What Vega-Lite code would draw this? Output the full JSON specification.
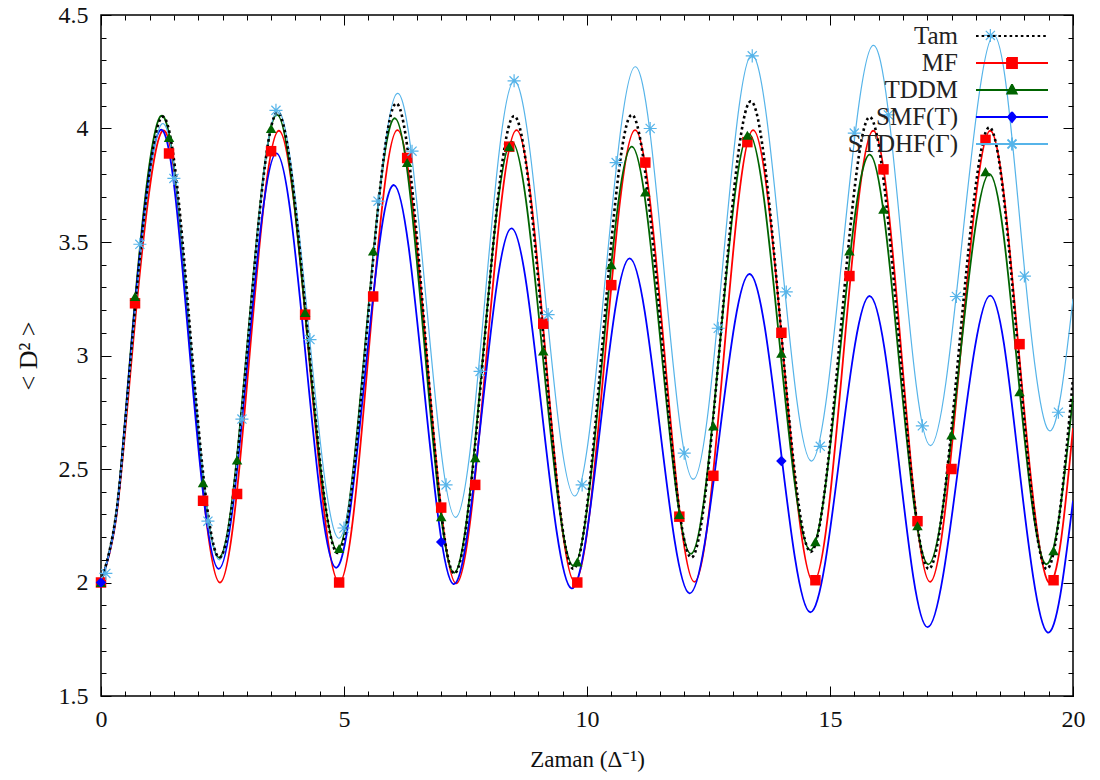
{
  "$schema": "https://vega.github.io/schema/vega-lite/v6.json",
  "width": 972,
  "height": 681,
  "autosize": {"type": "none"},
  "padding": {"left": 101, "top": 15, "right": 27, "bottom": 84},
  "background": "white",
  "config": {"view": {"stroke": "black", "strokeWidth": 1.5}, "font": "Liberation Serif"},
  "datasets": {
    "lines": [
      {"series":"Tam","x":0,"y":2.0},{"series":"Tam","x":0.31,"y":2.30},{"series":"Tam","x":0.625,"y":3.025},{"series":"Tam","x":1.25,"y":4.05},{"series":"Tam","x":1.845,"y":3.08},{"series":"Tam","x":2.44,"y":2.11},{"series":"Tam","x":3.035,"y":3.09},{"series":"Tam","x":3.63,"y":4.07},{"series":"Tam","x":4.25,"y":3.10},{"series":"Tam","x":4.87,"y":2.13},{"series":"Tam","x":5.475,"y":3.12},{"series":"Tam","x":6.08,"y":4.11},{"series":"Tam","x":6.675,"y":3.075},{"series":"Tam","x":7.27,"y":2.04},{"series":"Tam","x":7.885,"y":3.05},{"series":"Tam","x":8.5,"y":4.055},{"series":"Tam","x":9.11,"y":3.06},{"series":"Tam","x":9.72,"y":2.06},{"series":"Tam","x":10.32,"y":3.06},{"series":"Tam","x":10.92,"y":4.06},{"series":"Tam","x":11.535,"y":3.085},{"series":"Tam","x":12.15,"y":2.11},{"series":"Tam","x":12.76,"y":3.115},{"series":"Tam","x":13.37,"y":4.12},{"series":"Tam","x":13.985,"y":3.13},{"series":"Tam","x":14.6,"y":2.135},{"series":"Tam","x":15.21,"y":3.09},{"series":"Tam","x":15.82,"y":4.05},{"series":"Tam","x":16.425,"y":3.055},{"series":"Tam","x":17.03,"y":2.06},{"series":"Tam","x":17.655,"y":3.03},{"series":"Tam","x":18.28,"y":4.005},{"series":"Tam","x":18.865,"y":3.03},{"series":"Tam","x":19.45,"y":2.06},{"series":"Tam","x":20,"y":2.9},
      {"series":"MF","x":0,"y":2.0},{"series":"MF","x":0.31,"y":2.28},{"series":"MF","x":0.635,"y":2.995},{"series":"MF","x":1.27,"y":3.99},{"series":"MF","x":1.86,"y":2.995},{"series":"MF","x":2.45,"y":2.0},{"series":"MF","x":3.055,"y":2.995},{"series":"MF","x":3.66,"y":3.99},{"series":"MF","x":4.28,"y":2.995},{"series":"MF","x":4.9,"y":2.0},{"series":"MF","x":5.5,"y":2.997},{"series":"MF","x":6.1,"y":3.993},{"series":"MF","x":6.705,"y":2.995},{"series":"MF","x":7.31,"y":1.996},{"series":"MF","x":7.93,"y":2.995},{"series":"MF","x":8.55,"y":3.993},{"series":"MF","x":9.15,"y":2.998},{"series":"MF","x":9.75,"y":2.003},{"series":"MF","x":10.37,"y":2.998},{"series":"MF","x":10.99,"y":3.993},{"series":"MF","x":11.6,"y":2.998},{"series":"MF","x":12.21,"y":2.003},{"series":"MF","x":12.815,"y":2.998},{"series":"MF","x":13.42,"y":3.993},{"series":"MF","x":14.04,"y":2.998},{"series":"MF","x":14.66,"y":2.003},{"series":"MF","x":15.275,"y":2.998},{"series":"MF","x":15.89,"y":3.99},{"series":"MF","x":16.475,"y":2.997},{"series":"MF","x":17.06,"y":2.003},{"series":"MF","x":17.68,"y":2.997},{"series":"MF","x":18.3,"y":3.99},{"series":"MF","x":18.895,"y":2.997},{"series":"MF","x":19.49,"y":2.003},{"series":"MF","x":20,"y":2.68},
      {"series":"TDDM","x":0,"y":2.0},{"series":"TDDM","x":0.31,"y":2.30},{"series":"TDDM","x":0.615,"y":3.03},{"series":"TDDM","x":1.23,"y":4.055},{"series":"TDDM","x":1.83,"y":3.08},{"series":"TDDM","x":2.43,"y":2.11},{"series":"TDDM","x":3.025,"y":3.085},{"series":"TDDM","x":3.62,"y":4.06},{"series":"TDDM","x":4.24,"y":3.10},{"series":"TDDM","x":4.86,"y":2.143},{"series":"TDDM","x":5.455,"y":3.094},{"series":"TDDM","x":6.05,"y":4.045},{"series":"TDDM","x":6.655,"y":3.044},{"series":"TDDM","x":7.26,"y":2.043},{"series":"TDDM","x":7.855,"y":2.99},{"series":"TDDM","x":8.45,"y":3.942},{"series":"TDDM","x":9.085,"y":3.01},{"series":"TDDM","x":9.72,"y":2.073},{"series":"TDDM","x":10.32,"y":2.997},{"series":"TDDM","x":10.92,"y":3.92},{"series":"TDDM","x":11.53,"y":3.023},{"series":"TDDM","x":12.14,"y":2.126},{"series":"TDDM","x":12.735,"y":3.05},{"series":"TDDM","x":13.33,"y":3.976},{"series":"TDDM","x":13.96,"y":3.06},{"series":"TDDM","x":14.59,"y":2.143},{"series":"TDDM","x":15.205,"y":3.014},{"series":"TDDM","x":15.82,"y":3.885},{"series":"TDDM","x":16.42,"y":2.98},{"series":"TDDM","x":17.02,"y":2.08},{"series":"TDDM","x":17.65,"y":2.94},{"series":"TDDM","x":18.28,"y":3.80},{"series":"TDDM","x":18.86,"y":2.94},{"series":"TDDM","x":19.44,"y":2.081},{"series":"TDDM","x":20,"y":2.82},
      {"series":"SMF(T)","x":0,"y":2.0},{"series":"SMF(T)","x":0.31,"y":2.29},{"series":"SMF(T)","x":0.61,"y":3.0},{"series":"SMF(T)","x":1.22,"y":3.993},{"series":"SMF(T)","x":1.82,"y":3.027},{"series":"SMF(T)","x":2.42,"y":2.06},{"series":"SMF(T)","x":3.015,"y":2.975},{"series":"SMF(T)","x":3.61,"y":3.89},{"series":"SMF(T)","x":4.22,"y":2.978},{"series":"SMF(T)","x":4.83,"y":2.065},{"series":"SMF(T)","x":5.43,"y":2.908},{"series":"SMF(T)","x":6.03,"y":3.751},{"series":"SMF(T)","x":6.64,"y":2.872},{"series":"SMF(T)","x":7.25,"y":1.993},{"series":"SMF(T)","x":7.85,"y":2.777},{"series":"SMF(T)","x":8.45,"y":3.56},{"series":"SMF(T)","x":9.065,"y":2.767},{"series":"SMF(T)","x":9.68,"y":1.974},{"series":"SMF(T)","x":10.28,"y":2.70},{"series":"SMF(T)","x":10.88,"y":3.428},{"series":"SMF(T)","x":11.495,"y":2.69},{"series":"SMF(T)","x":12.11,"y":1.952},{"series":"SMF(T)","x":12.73,"y":2.656},{"series":"SMF(T)","x":13.35,"y":3.359},{"series":"SMF(T)","x":13.97,"y":2.614},{"series":"SMF(T)","x":14.59,"y":1.869},{"series":"SMF(T)","x":15.205,"y":2.566},{"series":"SMF(T)","x":15.82,"y":3.262},{"series":"SMF(T)","x":16.415,"y":2.533},{"series":"SMF(T)","x":17.01,"y":1.803},{"series":"SMF(T)","x":17.655,"y":2.534},{"series":"SMF(T)","x":18.3,"y":3.264},{"series":"SMF(T)","x":18.885,"y":2.523},{"series":"SMF(T)","x":19.47,"y":1.781},{"series":"SMF(T)","x":20,"y":2.36},
      {"series":"STDHF(Γ)","x":0,"y":2.0},{"series":"STDHF(Γ)","x":0.31,"y":2.29},{"series":"STDHF(Γ)","x":0.625,"y":3.01},{"series":"STDHF(Γ)","x":1.25,"y":4.02},{"series":"STDHF(Γ)","x":1.845,"y":3.06},{"series":"STDHF(Γ)","x":2.44,"y":2.10},{"series":"STDHF(Γ)","x":3.035,"y":3.09},{"series":"STDHF(Γ)","x":3.63,"y":4.08},{"series":"STDHF(Γ)","x":4.265,"y":3.138},{"series":"STDHF(Γ)","x":4.9,"y":2.195},{"series":"STDHF(Γ)","x":5.5,"y":3.175},{"series":"STDHF(Γ)","x":6.1,"y":4.155},{"series":"STDHF(Γ)","x":6.7,"y":3.221},{"series":"STDHF(Γ)","x":7.3,"y":2.287},{"series":"STDHF(Γ)","x":7.9,"y":3.249},{"series":"STDHF(Γ)","x":8.5,"y":4.21},{"series":"STDHF(Γ)","x":9.125,"y":3.296},{"series":"STDHF(Γ)","x":9.75,"y":2.381},{"series":"STDHF(Γ)","x":10.37,"y":3.327},{"series":"STDHF(Γ)","x":10.99,"y":4.272},{"series":"STDHF(Γ)","x":11.59,"y":3.364},{"series":"STDHF(Γ)","x":12.19,"y":2.455},{"series":"STDHF(Γ)","x":12.79,"y":3.39},{"series":"STDHF(Γ)","x":13.39,"y":4.324},{"series":"STDHF(Γ)","x":14.005,"y":3.43},{"series":"STDHF(Γ)","x":14.62,"y":2.535},{"series":"STDHF(Γ)","x":15.255,"y":3.45},{"series":"STDHF(Γ)","x":15.89,"y":4.366},{"series":"STDHF(Γ)","x":16.48,"y":3.485},{"series":"STDHF(Γ)","x":17.07,"y":2.603},{"series":"STDHF(Γ)","x":17.72,"y":3.507},{"series":"STDHF(Γ)","x":18.37,"y":4.41},{"series":"STDHF(Γ)","x":18.93,"y":3.541},{"series":"STDHF(Γ)","x":19.49,"y":2.672},{"series":"STDHF(Γ)","x":20,"y":3.25}
    ],
    "marks": [
      {"series":"MF","x":0,"y":2.0},{"series":"MF","x":0.7,"y":3.23},{"series":"MF","x":1.4,"y":3.89},{"series":"MF","x":2.1,"y":2.36},{"series":"MF","x":2.8,"y":2.39},{"series":"MF","x":3.5,"y":3.9},{"series":"MF","x":4.2,"y":3.18},{"series":"MF","x":4.9,"y":2.0},{"series":"MF","x":5.6,"y":3.26},{"series":"MF","x":6.3,"y":3.87},{"series":"MF","x":7.0,"y":2.33},{"series":"MF","x":7.7,"y":2.43},{"series":"MF","x":8.4,"y":3.92},{"series":"MF","x":9.1,"y":3.14},{"series":"MF","x":9.8,"y":2.0},{"series":"MF","x":10.5,"y":3.31},{"series":"MF","x":11.2,"y":3.85},{"series":"MF","x":11.9,"y":2.29},{"series":"MF","x":12.6,"y":2.47},{"series":"MF","x":13.3,"y":3.94},{"series":"MF","x":14.0,"y":3.1},{"series":"MF","x":14.7,"y":2.01},{"series":"MF","x":15.4,"y":3.35},{"series":"MF","x":16.1,"y":3.82},{"series":"MF","x":16.8,"y":2.27},{"series":"MF","x":17.5,"y":2.5},{"series":"MF","x":18.2,"y":3.95},{"series":"MF","x":18.9,"y":3.05},{"series":"MF","x":19.6,"y":2.01},
      {"series":"TDDM","x":0,"y":2.0},{"series":"TDDM","x":0.7,"y":3.26},{"series":"TDDM","x":1.4,"y":3.96},{"series":"TDDM","x":2.1,"y":2.44},{"series":"TDDM","x":2.8,"y":2.54},{"series":"TDDM","x":3.5,"y":4.0},{"series":"TDDM","x":4.2,"y":3.19},{"series":"TDDM","x":4.9,"y":2.15},{"series":"TDDM","x":5.6,"y":3.46},{"series":"TDDM","x":6.3,"y":3.85},{"series":"TDDM","x":7.0,"y":2.29},{"series":"TDDM","x":7.7,"y":2.55},{"series":"TDDM","x":8.4,"y":3.92},{"series":"TDDM","x":9.1,"y":3.02},{"series":"TDDM","x":9.8,"y":2.09},{"series":"TDDM","x":10.5,"y":3.40},{"series":"TDDM","x":11.2,"y":3.72},{"series":"TDDM","x":11.9,"y":2.30},{"series":"TDDM","x":12.6,"y":2.69},{"series":"TDDM","x":13.3,"y":3.97},{"series":"TDDM","x":14.0,"y":3.01},{"series":"TDDM","x":14.7,"y":2.18},{"series":"TDDM","x":15.4,"y":3.46},{"series":"TDDM","x":16.1,"y":3.645},{"series":"TDDM","x":16.8,"y":2.25},{"series":"TDDM","x":17.5,"y":2.65},{"series":"TDDM","x":18.2,"y":3.81},{"series":"TDDM","x":18.9,"y":2.84},{"series":"TDDM","x":19.6,"y":2.14},
      {"series":"SMF(T)","x":0,"y":2.0},{"series":"SMF(T)","x":7.0,"y":2.178},{"series":"SMF(T)","x":14.0,"y":2.535},
      {"series":"STDHF(Γ)","x":0.1,"y":2.04},{"series":"STDHF(Γ)","x":0.8,"y":3.49},{"series":"STDHF(Γ)","x":1.5,"y":3.78},{"series":"STDHF(Γ)","x":2.2,"y":2.27},{"series":"STDHF(Γ)","x":2.9,"y":2.72},{"series":"STDHF(Γ)","x":3.6,"y":4.08},{"series":"STDHF(Γ)","x":4.3,"y":3.07},{"series":"STDHF(Γ)","x":5.0,"y":2.24},{"series":"STDHF(Γ)","x":5.7,"y":3.68},{"series":"STDHF(Γ)","x":6.4,"y":3.90},{"series":"STDHF(Γ)","x":7.1,"y":2.43},{"series":"STDHF(Γ)","x":7.8,"y":2.93},{"series":"STDHF(Γ)","x":8.5,"y":4.21},{"series":"STDHF(Γ)","x":9.2,"y":3.18},{"series":"STDHF(Γ)","x":9.9,"y":2.43},{"series":"STDHF(Γ)","x":10.6,"y":3.85},{"series":"STDHF(Γ)","x":11.3,"y":4.0},{"series":"STDHF(Γ)","x":12.0,"y":2.57},{"series":"STDHF(Γ)","x":12.7,"y":3.12},{"series":"STDHF(Γ)","x":13.4,"y":4.32},{"series":"STDHF(Γ)","x":14.1,"y":3.28},{"series":"STDHF(Γ)","x":14.8,"y":2.60},{"series":"STDHF(Γ)","x":15.5,"y":3.98},{"series":"STDHF(Γ)","x":16.2,"y":4.06},{"series":"STDHF(Γ)","x":16.9,"y":2.69},{"series":"STDHF(Γ)","x":17.6,"y":3.26},{"series":"STDHF(Γ)","x":18.3,"y":4.41},{"series":"STDHF(Γ)","x":19.0,"y":3.35},{"series":"STDHF(Γ)","x":19.7,"y":2.75}
    ],
    "ax": [{"x": 0, "y": 2}]
  },
  "resolve": {"axis": {"x": "independent", "y": "independent"}},
  "layer": [
    {
      "data": {"name": "lines"},
      "transform": [{"filter": "datum.series === 'MF' || datum.series === 'TDDM' || datum.series === 'SMF(T)'"}],
      "mark": {"type": "line", "interpolate": "natural", "clip": true, "strokeWidth": 1.8},
      "encoding": {
        "x": {"field": "x", "type": "quantitative", "scale": {"domain": [0, 20], "nice": false, "zero": false},
          "axis": {"orient": "bottom", "values": [0, 5, 10, 15, 20], "ticks": false, "domain": false, "grid": false, "labelFlush": false,
            "labelFont": "Liberation Serif", "labelFontSize": 24, "labelColor": "#111", "labelPadding": 11, "title": null}},
        "y": {"field": "y", "type": "quantitative", "scale": {"domain": [1.5, 4.5], "nice": false, "zero": false},
          "axis": {"orient": "left", "values": [1.5, 2, 2.5, 3, 3.5, 4, 4.5], "format": "~g", "ticks": false, "domain": false, "grid": false,
            "labelFont": "Liberation Serif", "labelFontSize": 24, "labelColor": "#111", "labelPadding": 13, "title": null}},
        "color": {"field": "series", "type": "nominal",
          "scale": {"domain": ["Tam", "MF", "TDDM", "SMF(T)", "STDHF(Γ)"], "range": ["#000000", "#ff0000", "#006400", "#0000ff", "#56b4e9"]},
          "legend": {"orient": "none", "legendX": 898.5, "legendY": 8.5, "title": null, "padding": 0,
            "labelFont": "Liberation Serif", "labelFontSize": 25, "labelColor": "#222", "labelAlign": "right", "labelOffset": -66.5, "labelLimit": 300,
            "symbolSize": 100, "symbolStrokeWidth": 1.8, "rowPadding": 1,
            "encode": {"symbols": {"update": {
              "shape": {"signal": "datum.value === 'MF' ? 'M-7.2,0L7.2,0M-1,-1L1,-1L1,1L-1,1Z' : datum.value === 'TDDM' ? 'M-7.2,0L7.2,0M0,-1.1L0.95,0.7L-0.95,0.7Z' : datum.value === 'SMF(T)' ? 'M-7.2,0L7.2,0M0,-1L0.8,0L0,1L-0.8,0Z' : datum.value === 'STDHF(Γ)' ? 'M-7.2,0L7.2,0M-1.3,0L1.3,0M0,-1.3L0,1.3M-0.9,-0.9L0.9,0.9M-0.9,0.9L0.9,-0.9' : 'M-7.2,0L7.2,0'"},
              "fill": {"signal": "datum.value === 'MF' ? '#ff0000' : datum.value === 'TDDM' ? '#006400' : datum.value === 'SMF(T)' ? '#0000ff' : 'transparent'"},
              "stroke": {"signal": "datum.value === 'Tam' ? '#000000' : datum.value === 'MF' ? '#ff0000' : datum.value === 'TDDM' ? '#006400' : datum.value === 'SMF(T)' ? '#0000ff' : '#56b4e9'"},
              "strokeDash": {"signal": "datum.value === 'Tam' ? [2.6, 3] : [300, 0]"},
              "opacity": {"value": 1}
            }}}
          }}
      }
    },
    {
      "data": {"name": "lines"},
      "transform": [{"filter": "datum.series === 'STDHF(Γ)'"}],
      "mark": {"type": "line", "interpolate": "natural", "clip": true, "strokeWidth": 1.2},
      "encoding": {
        "x": {"field": "x", "type": "quantitative", "axis": null},
        "y": {"field": "y", "type": "quantitative", "axis": null},
        "color": {"field": "series", "type": "nominal",
          "scale": {"domain": ["Tam", "MF", "TDDM", "SMF(T)", "STDHF(Γ)"], "range": ["#000000", "#ff0000", "#006400", "#0000ff", "#56b4e9"]}}
      }
    },
    {
      "data": {"name": "lines"},
      "transform": [{"filter": "datum.series === 'Tam'"}],
      "mark": {"type": "line", "interpolate": "natural", "clip": true, "strokeWidth": 2.6, "strokeDash": [2.6, 3]},
      "encoding": {
        "x": {"field": "x", "type": "quantitative", "axis": null},
        "y": {"field": "y", "type": "quantitative", "axis": null},
        "color": {"field": "series", "type": "nominal",
          "scale": {"domain": ["Tam", "MF", "TDDM", "SMF(T)", "STDHF(Γ)"], "range": ["#000000", "#ff0000", "#006400", "#0000ff", "#56b4e9"]}}
      }
    },
    {
      "data": {"name": "marks"},
      "transform": [{"filter": "datum.series !== 'STDHF(Γ)'"}],
      "mark": {"type": "point", "filled": true, "opacity": 1, "size": 110},
      "encoding": {
        "x": {"field": "x", "type": "quantitative", "axis": null},
        "y": {"field": "y", "type": "quantitative", "axis": null},
        "color": {"field": "series", "type": "nominal",
          "scale": {"domain": ["Tam", "MF", "TDDM", "SMF(T)", "STDHF(Γ)"], "range": ["#000000", "#ff0000", "#006400", "#0000ff", "#56b4e9"]}, "legend": null},
        "shape": {"field": "series", "type": "nominal",
          "scale": {"domain": ["MF", "TDDM", "SMF(T)"], "range": ["square", "triangle-up", "diamond"]}, "legend": null}
      }
    },
    {
      "data": {"name": "marks"},
      "transform": [{"filter": "datum.series === 'STDHF(Γ)'"}],
      "mark": {"type": "point", "filled": false, "opacity": 1, "size": 170, "stroke": "#56b4e9", "strokeWidth": 1.2,
        "shape": "M-1,0L1,0M0,-1L0,1M-0.7,-0.7L0.7,0.7M-0.7,0.7L0.7,-0.7"},
      "encoding": {
        "x": {"field": "x", "type": "quantitative", "axis": null},
        "y": {"field": "y", "type": "quantitative", "axis": null}
      }
    },
    {
      "data": {"name": "ax"},
      "mark": {"type": "point", "opacity": 0},
      "encoding": {
        "x": {"field": "x", "type": "quantitative", "axis": {"orient": "bottom", "values": [0, 5, 10, 15, 20], "labels": false, "domain": false, "grid": false, "ticks": true, "tickSize": -10, "tickColor": "black", "tickWidth": 1,
          "title": "Zaman (Δ⁻¹)", "titleFont": "Liberation Serif", "titleFontSize": 23, "titleFontWeight": "normal", "titleColor": "#111", "titlePadding": 52}},
        "y": {"field": "y", "type": "quantitative", "axis": {"orient": "left", "values": [1.5, 2, 2.5, 3, 3.5, 4, 4.5], "labels": false, "domain": false, "grid": false, "ticks": true, "tickSize": -10, "tickColor": "black", "tickWidth": 1,
          "title": "< D² >", "titleFont": "Liberation Serif", "titleFontSize": 26, "titleFontWeight": "normal", "titleColor": "#111", "titlePadding": 59}}
      }
    },
    {
      "data": {"name": "ax"},
      "mark": {"type": "point", "opacity": 0},
      "encoding": {
        "x": {"field": "x", "type": "quantitative", "axis": {"orient": "bottom", "values": [0,0.5,1,1.5,2,2.5,3,3.5,4,4.5,5,5.5,6,6.5,7,7.5,8,8.5,9,9.5,10,10.5,11,11.5,12,12.5,13,13.5,14,14.5,15,15.5,16,16.5,17,17.5,18,18.5,19,19.5,20], "labels": false, "domain": false, "grid": false, "title": null, "ticks": true, "tickSize": -5, "tickColor": "black", "tickWidth": 1}},
        "y": {"field": "y", "type": "quantitative", "axis": {"orient": "left", "values": [1.5,1.6,1.7,1.8,1.9,2,2.1,2.2,2.3,2.4,2.5,2.6,2.7,2.8,2.9,3,3.1,3.2,3.3,3.4,3.5,3.6,3.7,3.8,3.9,4,4.1,4.2,4.3,4.4,4.5], "labels": false, "domain": false, "grid": false, "title": null, "ticks": true, "tickSize": -5, "tickColor": "black", "tickWidth": 1}}
      }
    },
    {
      "data": {"name": "ax"},
      "mark": {"type": "point", "opacity": 0},
      "encoding": {
        "x": {"field": "x", "type": "quantitative", "axis": {"orient": "top", "values": [0, 5, 10, 15, 20], "labels": false, "domain": false, "grid": false, "title": null, "ticks": true, "tickSize": -10, "tickColor": "black", "tickWidth": 1}},
        "y": {"field": "y", "type": "quantitative", "axis": {"orient": "right", "values": [1.5, 2, 2.5, 3, 3.5, 4, 4.5], "labels": false, "domain": false, "grid": false, "title": null, "ticks": true, "tickSize": -10, "tickColor": "black", "tickWidth": 1}}
      }
    },
    {
      "data": {"name": "ax"},
      "mark": {"type": "point", "opacity": 0},
      "encoding": {
        "x": {"field": "x", "type": "quantitative", "axis": {"orient": "top", "values": [0,0.5,1,1.5,2,2.5,3,3.5,4,4.5,5,5.5,6,6.5,7,7.5,8,8.5,9,9.5,10,10.5,11,11.5,12,12.5,13,13.5,14,14.5,15,15.5,16,16.5,17,17.5,18,18.5,19,19.5,20], "labels": false, "domain": false, "grid": false, "title": null, "ticks": true, "tickSize": -5, "tickColor": "black", "tickWidth": 1}},
        "y": {"field": "y", "type": "quantitative", "axis": {"orient": "right", "values": [1.5,1.6,1.7,1.8,1.9,2,2.1,2.2,2.3,2.4,2.5,2.6,2.7,2.8,2.9,3,3.1,3.2,3.3,3.4,3.5,3.6,3.7,3.8,3.9,4,4.1,4.2,4.3,4.4,4.5], "labels": false, "domain": false, "grid": false, "title": null, "ticks": true, "tickSize": -5, "tickColor": "black", "tickWidth": 1}}
      }
    }
  ]
}
